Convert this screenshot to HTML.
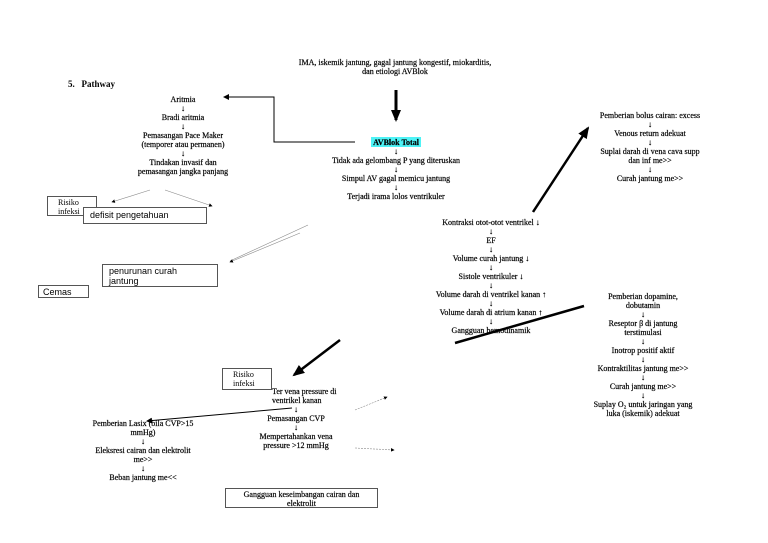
<!DOCTYPE html>
<html><head><meta charset="utf-8"><style>
body{margin:0;width:768px;height:543px;background:#fff;position:relative;overflow:hidden;font-family:"Liberation Serif",serif;font-size:8px;color:#000}
.t{position:absolute;white-space:nowrap;transform:translateX(-50%);text-align:center;line-height:9px;-webkit-text-stroke:0.2px #000}
.b{position:absolute;border:1px solid #555;background:#fff;box-sizing:border-box}
.s{font-family:"Liberation Sans",sans-serif;font-size:9px;line-height:10px;-webkit-text-stroke:0}
</style></head><body>
<svg width="768" height="543" style="position:absolute;left:0;top:0">
<defs>
<marker id="a" markerWidth="6" markerHeight="6" refX="5" refY="3" orient="auto"><path d="M0,0L6,3L0,6z" fill="#000"/></marker>
<marker id="k" markerUnits="userSpaceOnUse" markerWidth="12" markerHeight="10" refX="10" refY="5" orient="auto"><path d="M0,0L12,5L0,10z" fill="#000"/></marker>
</defs>
<line x1="396" y1="90" x2="396" y2="120" stroke="#000" stroke-width="3" marker-end="url(#k)"/>
<polyline points="355,142 274,142 274,97 224,97" fill="none" stroke="#000" stroke-width="1" marker-end="url(#a)"/>
<line x1="150" y1="190" x2="112" y2="202" stroke="#888" stroke-width="0.6" marker-end="url(#a)"/>
<line x1="165" y1="190" x2="212" y2="206" stroke="#888" stroke-width="0.6" marker-end="url(#a)"/>
<line x1="308" y1="225" x2="230" y2="261" stroke="#888" stroke-width="0.6"/>
<line x1="300" y1="233" x2="230" y2="262" stroke="#888" stroke-width="0.6" marker-end="url(#a)"/>
<line x1="533" y1="212" x2="588" y2="128" stroke="#000" stroke-width="2.5" marker-end="url(#k)"/>
<line x1="455" y1="343" x2="584" y2="306" stroke="#000" stroke-width="2.5"/>
<line x1="340" y1="340" x2="294" y2="375" stroke="#000" stroke-width="2.5" marker-end="url(#k)"/>
<line x1="292" y1="408" x2="147" y2="421" stroke="#000" stroke-width="1" marker-end="url(#a)"/>
<line x1="355" y1="410" x2="387" y2="397" stroke="#888" stroke-width="0.6" stroke-dasharray="2,1" marker-end="url(#a)"/>
<line x1="355" y1="448" x2="394" y2="450" stroke="#888" stroke-width="0.6" stroke-dasharray="2,1" marker-end="url(#a)"/>
</svg>

<div class="t" style="left:395px;top:58px">IMA, iskemik jantung, gagal jantung kongestif, miokarditis,<br>dan etiologi AVBlok</div>
<div style="position:absolute;left:68px;top:79px;font-weight:bold;font-size:9px">5.&nbsp;&nbsp; Pathway</div>

<div class="t" style="left:183px;top:95px">Aritmia<br>↓<br>Bradi aritmia<br>↓<br>Pemasangan Pace Maker<br>(temporer atau permanen)<br>↓<br>Tindakan invasif dan<br>pemasangan jangka panjang</div>

<div style="position:absolute;left:371px;top:137px;width:50px;height:10px;background:#4ef3f6"></div>
<div class="t" style="left:396px;top:138px;font-weight:bold">AVBlok Total</div>
<div class="t" style="left:396px;top:147px">↓<br>Tidak ada gelombang P yang diteruskan<br>↓<br>Simpul AV gagal memicu jantung<br>↓<br>Terjadi irama lolos ventrikuler</div>

<div class="b" style="left:47px;top:196px;width:50px;height:20px;padding:1px 10px;line-height:9px">Risiko infeksi</div>
<div class="b s" style="left:83px;top:207px;width:124px;height:17px;padding:2px 6px">defisit pengetahuan</div>
<div class="b s" style="left:102px;top:264px;width:116px;height:23px;padding:1px 6px">penurunan curah<br>jantung</div>
<div class="b s" style="left:38px;top:285px;width:51px;height:13px;padding:1px 4px">Cemas</div>

<div class="t" style="left:491px;top:218px">Kontraksi otot-otot ventrikel ↓<br>↓<br>EF<br>↓<br>Volume curah jantung ↓<br>↓<br>Sistole ventrikuler ↓<br>↓<br>Volume darah di ventrikel kanan ↑<br>↓<br>Volume darah di atrium kanan ↑<br>↓<br>Gangguan hemodinamik</div>

<div class="t" style="left:650px;top:111px">Pemberian bolus cairan: excess<br>↓<br>Venous return adekuat<br>↓<br>Suplai darah di vena cava supp<br>dan inf me&gt;&gt;<br>↓<br>Curah jantung me&gt;&gt;</div>

<div class="t" style="left:643px;top:292px">Pemberian dopamine,<br>dobutamin<br>↓<br>Reseptor β di jantung<br>terstimulasi<br>↓<br>Inotrop positif aktif<br>↓<br>Kontraktilitas jantung me&gt;&gt;<br>↓<br>Curah jantung me&gt;&gt;<br>↓<br>Suplay O₂ untuk jaringan yang<br>luka (iskemik) adekuat</div>

<div class="b" style="left:222px;top:368px;width:50px;height:22px;padding:1px 10px;line-height:9px">Risiko infeksi</div>
<div style="position:absolute;left:272px;top:387px;line-height:9px;-webkit-text-stroke:0.2px #000">Ter vena pressure di<br>ventrikel kanan</div>
<div class="t" style="left:296px;top:405px">↓<br>Pemasangan CVP<br>↓<br>Mempertahankan vena<br>pressure &gt;12 mmHg</div>

<div class="t" style="left:143px;top:419px">Pemberian Lasix (bila CVP&gt;15<br>mmHg)<br>↓<br>Eleksresi cairan dan elektrolit<br>me&gt;&gt;<br>↓<br>Beban jantung me&lt;&lt;</div>

<div class="b" style="left:225px;top:488px;width:153px;height:20px;text-align:center;line-height:9px;padding-top:1px;-webkit-text-stroke:0.2px #000">Gangguan keseimbangan cairan dan<br>elektrolit</div>
</body></html>
